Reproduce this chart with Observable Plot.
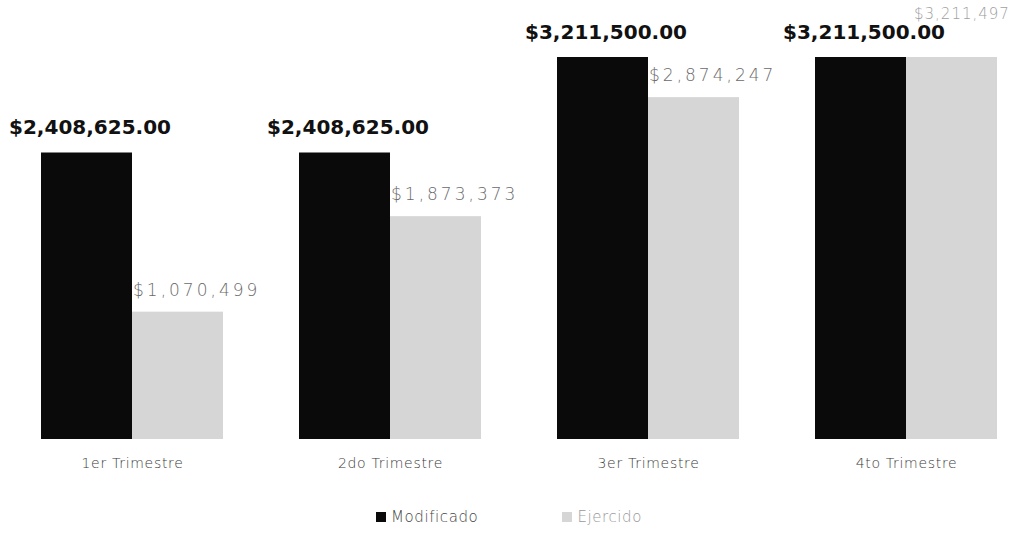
<!DOCTYPE html>
<html>
<head>
<meta charset="utf-8">
<script src="https://cdn.jsdelivr.net/npm/d3@7"></script>
<script src="https://cdn.jsdelivr.net/npm/@observablehq/plot@0.6"></script>
<style>
  html, body { margin: 0; padding: 0; background: #fff; }
  #chart svg { display: block; }
  .legend { display: flex; justify-content: center; align-items: center; height: 44px; padding-top: 0;
            font-family: "DejaVu Sans", sans-serif; font-weight: 200; font-size: 15px; letter-spacing: 0.6px; }
  .legend .item { display: flex; align-items: center; margin: 0 42px; }
  .legend .sw { width: 10px; height: 10px; margin-right: 5px; }
</style>
</head>
<body>
<div id="chart"></div>
<div class="legend" id="legend"></div>
<script>
const quarters = ["1er Trimestre", "2do Trimestre", "3er Trimestre", "4to Trimestre"];
const seriesNames = ["Modificado", "Ejercido"];
const modificado = [2408625, 2408625, 3211500, 3211500];
const ejercido = [1070499, 1873373, 2874247, 3211497];
const seriesColors = ["#0a0a0a", "#d6d6d6"];

const rows = [];
quarters.forEach((q, i) => {
  rows.push({q, s: "Modificado", v: modificado[i], other: ejercido[i]});
  rows.push({q, s: "Ejercido", v: ejercido[i], other: modificado[i]});
});
const modRows = rows.filter(d => d.s === "Modificado");
const ejeRows = rows.filter(d => d.s === "Ejercido");
// Ejercido labels that would collide with the Modificado label get lifted
const ejeNormal = ejeRows.filter(d => d.v / d.other < 0.97);
const ejeLifted = ejeRows.filter(d => d.v / d.other >= 0.97);

const fmtMod = v => "$" + d3.format(",.2f")(v);
const fmtEje = v => "$" + d3.format(",")(v);

const chart = Plot.plot({
  width: 1018,
  height: 495,
  marginLeft: 40,
  marginRight: 20,
  marginTop: 57,
  marginBottom: 56,
  style: {fontFamily: "'DejaVu Sans', sans-serif", background: "#fff"},
  fx: {domain: quarters, paddingInner: 0.296, paddingOuter: 0, label: null},
  x: {domain: seriesNames, padding: 0, axis: null},
  y: {domain: [0, 3211500], axis: null},
  color: {domain: seriesNames, range: seriesColors},
  marks: [
    Plot.barY(rows, {fx: "q", x: "s", y: "v", fill: "s"}),
    Plot.text(modRows, {fx: "q", x: "s", y: "v", text: d => fmtMod(d.v), dy: -25, dx: 3,
      fontSize: 20, fontWeight: "bold", fill: "#111"}),
    Plot.text(ejeNormal, {fx: "q", x: "s", y: "v", text: d => fmtEje(d.v), dy: -22, dx: -45,
      textAnchor: "start", fontSize: 17, fontWeight: 200, fill: "#6a6a6a"}),
    Plot.text(ejeLifted, {fx: "q", x: "s", y: "v", text: d => fmtEje(d.v), dy: -43, dx: -38,
      textAnchor: "start", fontSize: 15, fontWeight: 200, fill: "#a0a0a0"}),
    Plot.axisFx({anchor: "bottom", tickSize: 0, tickPadding: 19, fontSize: 14, label: null,
      fill: "#3a3a3a", fontWeight: 200})
  ]
});
const textGroups = chart.querySelectorAll('g[aria-label="text"]');
if (textGroups[1]) textGroups[1].style.letterSpacing = "3px";
if (textGroups[2]) textGroups[2].style.letterSpacing = "1px";
chart.querySelectorAll('g[aria-label="fx-axis tick label"]').forEach(g => g.style.letterSpacing = "0.7px");
document.getElementById("chart").appendChild(chart);

const legend = document.getElementById("legend");
seriesNames.forEach((s, i) => {
  const item = document.createElement("div");
  item.className = "item";
  const sw = document.createElement("span");
  sw.className = "sw";
  sw.style.background = seriesColors[i];
  const label = document.createElement("span");
  label.textContent = s;
  label.style.color = i === 0 ? "#444" : "#999";
  item.appendChild(sw);
  item.appendChild(label);
  legend.appendChild(item);
});
</script>
</body>
</html>
